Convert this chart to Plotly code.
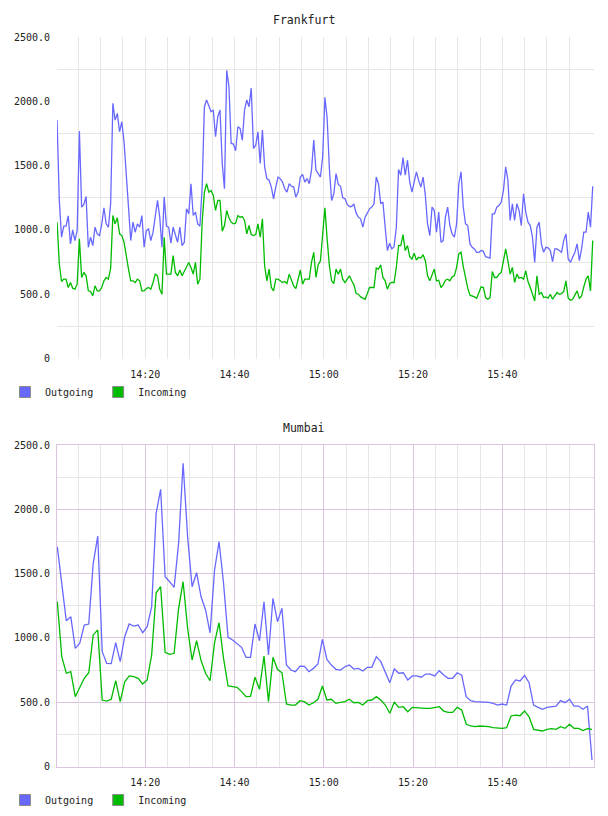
import pandas as pd
import plotly.graph_objects as go

DAY = "2024-01-01"

# ---------------- data ----------------
fra_times = pd.date_range(f"{DAY} 14:00:15", periods=241, freq="30s")

fra_out = [
    1854, 1229, 943, 1029, 1029, 1109, 891, 1000, 917, 995,
    1768, 1177, 1198, 1260, 865, 943, 878, 1021, 969, 956,
    1042, 1172, 1047, 1021, 1203, 1984, 1854, 1906, 1763, 1841,
    1685, 1464, 1177, 917, 1060, 982, 1047, 1021, 1112, 865,
    995, 1008, 917, 982, 1099, 1229, 1099, 865, 1255, 1029,
    1021, 896, 1021, 969, 904, 1021, 878, 904, 1164, 1125,
    1359, 1112, 1138, 1047, 1029, 1333, 1958, 2010, 1958, 1919,
    1932, 1724, 1880, 1932, 1516, 1320, 2240, 2115, 1672, 1667,
    1615, 1802, 1789, 1698, 1932, 2010, 1958, 2102, 1633, 1659,
    1763, 1516, 1776, 1490, 1399, 1386, 1333, 1242, 1333, 1411,
    1399, 1372, 1320, 1294, 1359, 1339, 1333, 1255, 1294, 1411,
    1432, 1372, 1399, 1359, 1464, 1698, 1464, 1438, 1411, 1568,
    2031, 1870, 1480, 1229, 1281, 1438, 1354, 1339, 1250, 1242,
    1198, 1182, 1182, 1203, 1130, 1099, 1086, 1021, 1099, 1130,
    1164, 1177, 1203, 1411, 1359, 1203, 1216, 1021, 839, 896,
    852, 870, 1021, 1469, 1425, 1563, 1425, 1542, 1372, 1294,
    1372, 1451, 1385, 1333, 1411, 1268, 1047, 956, 1177, 1151,
    982, 1138, 904, 917, 1099, 1177, 1034, 969, 943, 1047,
    1359, 1451, 1177, 1047, 1034, 891, 865, 852, 826, 826,
    839, 833, 792, 787, 781, 1125, 1125, 1177, 1190, 1216,
    1307, 1490, 1385, 1073, 1203, 1073, 1203, 1151, 1034, 1281,
    1138, 1060, 1034, 943, 747, 1021, 1060, 891, 826, 865,
    860, 839, 753, 852, 852, 839, 826, 917, 969, 774,
    747, 787, 826, 891, 761, 852, 982, 982, 1138, 1021, 1339,
]

fra_in = [
    1060, 735, 599, 617, 617, 552, 591, 547, 539, 578,
    930, 630, 669, 643, 526, 521, 487, 565, 526, 526,
    552, 604, 630, 617, 700, 1112, 1047, 1094, 969, 956,
    904, 787, 695, 604, 604, 591, 617, 604, 526, 526,
    544, 552, 539, 591, 656, 643, 539, 500, 943, 656,
    656, 656, 800, 669, 643, 688, 643, 678, 708, 747,
    708, 656, 747, 578, 617, 1060, 1294, 1359, 1294, 1307,
    1268, 1151, 1229, 1229, 990, 1034, 1151, 1094, 1060, 1047,
    1052, 1112, 1099, 1104, 1073, 969, 1034, 964, 956, 964,
    1047, 943, 1086, 721, 604, 695, 552, 526, 617, 617,
    604, 591, 599, 583, 656, 617, 565, 544, 617, 688,
    578, 617, 617, 617, 747, 826, 630, 729, 760, 943,
    1172, 930, 721, 604, 583, 695, 656, 695, 617, 591,
    617, 643, 604, 573, 505, 500, 479, 469, 461, 505,
    552, 552, 552, 703, 695, 729, 630, 604, 539, 583,
    591, 591, 708, 878, 878, 964, 839, 878, 792, 774,
    818, 766, 787, 781, 807, 760, 643, 604, 656, 695,
    604, 609, 552, 573, 609, 617, 604, 635, 643, 708,
    813, 826, 714, 625, 547, 492, 487, 479, 469, 513,
    557, 552, 474, 461, 474, 677, 630, 630, 656, 669,
    774, 852, 760, 656, 708, 591, 656, 625, 630, 617,
    682, 599, 552, 505, 448, 643, 500, 513, 474, 479,
    469, 500, 461, 487, 513, 500, 505, 521, 604, 469,
    453, 461, 495, 526, 469, 487, 557, 617, 643, 526, 917,
]

mum_times = pd.date_range(f"{DAY} 14:00:18", f"{DAY} 16:00:05", periods=120)

mum_out = [
    1709, 1420, 1134, 1165, 919, 958, 1100, 1108, 1580, 1792,
    893, 802, 800, 963, 815, 1009, 1108, 1092, 1100, 1040,
    1087, 1243, 1969, 2155, 1476, 1437, 1393, 1736, 2358, 1787,
    1398, 1507, 1320, 1217, 1040, 1528, 1748, 1425, 1005, 984,
    958, 927, 849, 849, 1108, 978, 1281, 867, 1308, 1126,
    1230, 789, 750, 737, 781, 778, 737, 763, 797, 989,
    833, 789, 756, 750, 776, 789, 758, 763, 742, 771,
    771, 854, 815, 737, 652, 758, 725, 729, 673, 704,
    704, 694, 719, 719, 704, 745, 711, 686, 686, 729,
    711, 543, 512, 504, 504, 504, 499, 491, 478, 486,
    478, 626, 673, 665, 709, 652, 478, 460, 445, 460,
    465, 470, 512, 496, 523, 470, 470, 445, 470, 51,
]

mum_in = [
    1282, 854, 725, 737, 543, 621, 686, 729, 1023, 1062,
    517, 509, 523, 667, 504, 659, 704, 699, 686, 641,
    673, 867, 1351, 1398, 888, 872, 880, 1230, 1437, 1075,
    828, 978, 823, 725, 667, 963, 1118, 841, 626, 621,
    616, 582, 543, 546, 694, 600, 859, 504, 849, 756,
    729, 486, 478, 478, 512, 504, 478, 496, 523, 626,
    517, 523, 491, 499, 504, 523, 496, 499, 478, 512,
    517, 543, 517, 478, 414, 499, 460, 465, 426, 460,
    457, 452, 452, 452, 457, 465, 431, 421, 421, 460,
    439, 330, 315, 310, 315, 315, 310, 302, 297, 297,
    302, 393, 400, 395, 432, 387, 289, 284, 276, 289,
    294, 289, 310, 297, 328, 297, 297, 279, 294, 289,
]

series_names = ["Outgoing", "Incoming"]
y_tickvals = [0, 500, 1000, 1500, 2000, 2500]
y_ticktext = ["0", "500.0", "1000.0", "1500.0", "2000.0", "2500.0"]
y_minorvals = [250, 750, 1250, 1750, 2250]
x_ticklabels = ["14:20", "14:40", "15:00", "15:20", "15:40"]
x_minorlabels = [f"{h}:{m:02d}" for h in (14, 15) for m in range(0, 60, 5)]

# ---------------- styling ----------------
BLUE = "#6868ff"
GREEN = "#00bb00"
GRID = "#e6e6e6"
PINK = "#dcc4de"
MONO = "DejaVu Sans Mono"
TXT = "#222222"

W, H = 608, 816


def fx(px):
    return px / W


def fy(py):
    return (H - py) / H


x_major = [f"{DAY} {t}" for t in x_ticklabels]
x_minor_all = [f"{DAY} {t}" for t in x_minorlabels if t != "14:00"]
x_minor_nomajor = [v for v in x_minor_all if v not in x_major]
x_range = [f"{DAY} 14:00:14", f"{DAY} 16:00:32"]

fig = go.Figure()

for xa, ya, times, out, inc in (("x", "y", fra_times, fra_out, fra_in),
                                ("x2", "y2", mum_times, mum_out, mum_in)):
    fig.add_trace(go.Scatter(x=times, y=out, mode="lines", name=series_names[0],
                             line=dict(color=BLUE, width=1.3), xaxis=xa, yaxis=ya,
                             showlegend=False, hoverinfo="skip"))
    fig.add_trace(go.Scatter(x=times, y=inc, mode="lines", name=series_names[1],
                             line=dict(color=GREEN, width=1.3), xaxis=xa, yaxis=ya,
                             showlegend=False, hoverinfo="skip"))

for lg, xa, ya in (("legend", "x", "y"), ("legend2", "x2", "y2")):
    for name, col in zip(series_names, (BLUE, GREEN)):
        fig.add_trace(go.Scatter(x=[None], y=[None], mode="markers", name=name,
                                 marker=dict(symbol="square", size=11, color=col,
                                             line=dict(color="#8a8a8a", width=1)),
                                 xaxis=xa, yaxis=ya, legend=lg, showlegend=True))

tickfont = dict(family=MONO, size=10, color=TXT)

common_x = dict(type="date", range=x_range, tickmode="array", tickvals=x_major,
                ticktext=x_ticklabels, tickfont=tickfont, zeroline=False,
                ticks="outside", ticklen=6, tickcolor="rgba(0,0,0,0)",
                fixedrange=True, automargin=False, domain=[fx(57), fx(594)])
common_y = dict(range=[0, 2500], tickmode="array", tickvals=y_tickvals,
                ticktext=y_ticktext, tickfont=tickfont, zeroline=False,
                ticks="outside", ticklen=4, tickcolor="rgba(0,0,0,0)",
                fixedrange=True, automargin=False)

legend_common = dict(orientation="h", xref="paper", yref="paper",
                     xanchor="left", yanchor="middle",
                     font=dict(family=MONO, size=10, color=TXT),
                     bgcolor="rgba(0,0,0,0)", borderwidth=0, itemclick=False,
                     itemdoubleclick=False)

fig.update_layout(
    width=W, height=H,
    margin=dict(l=0, r=0, t=0, b=0, pad=0),
    paper_bgcolor="white", plot_bgcolor="white",
    xaxis=dict(**common_x, anchor="y", showgrid=True, gridcolor=GRID,
               showline=False,
               minor=dict(tickmode="array", tickvals=x_minor_all, showgrid=True,
                          gridcolor=GRID, ticks="")),
    yaxis=dict(**common_y, domain=[fy(358.5), fy(37)], anchor="x", showgrid=False,
               showline=False,
               minor=dict(tickmode="array", tickvals=y_minorvals, showgrid=True,
                          gridcolor=GRID, ticks="")),
    xaxis2=dict(**common_x, anchor="y2", showgrid=True, gridcolor=PINK,
                showline=True, mirror=True, linecolor=PINK, linewidth=1,
                minor=dict(tickmode="array", tickvals=x_minor_nomajor, showgrid=True,
                           gridcolor=GRID, ticks="")),
    yaxis2=dict(**common_y, domain=[fy(766.5), fy(445)], anchor="x2", showgrid=True,
                gridcolor=PINK, showline=True, mirror=True, linecolor=PINK, linewidth=1,
                minor=dict(tickmode="array", tickvals=y_minorvals, showgrid=True,
                           gridcolor=GRID, ticks="")),
    legend=dict(**legend_common, x=fx(5), y=fy(392)),
    legend2=dict(**legend_common, x=fx(5), y=fy(800)),
    annotations=[
        dict(text="Frankfurt", xref="paper", yref="paper", x=fx(304),
             y=fy(20), xanchor="center", yanchor="middle", showarrow=False,
             font=dict(family=MONO, size=11.5, color=TXT)),
        dict(text="Mumbai", xref="paper", yref="paper", x=fx(304),
             y=fy(428), xanchor="center", yanchor="middle", showarrow=False,
             font=dict(family=MONO, size=11.5, color=TXT)),
    ],
    showlegend=True,
)

fig.write_html("out.html")
